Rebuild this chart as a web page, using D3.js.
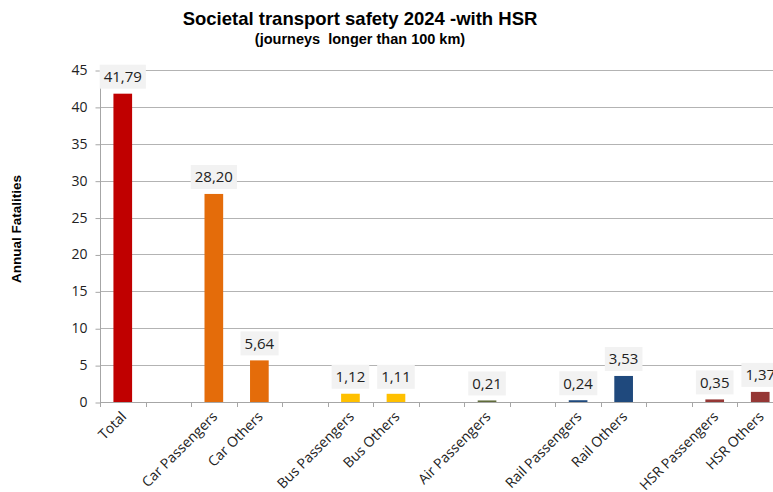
<!DOCTYPE html>
<html>
<head>
<meta charset="utf-8">
<script src="https://cdn.jsdelivr.net/npm/d3@7"></script>
<style>
  html, body { margin: 0; padding: 0; background: #fff; }
  svg { display: block; overflow: hidden; }
</style>
</head>
<body>
<svg id="chart" width="773" height="492"></svg>
<script>
// ---- data ----
const categories = ["Total", "", "Car Passengers", "Car Others", " ", "Bus Passengers", "Bus Others", "  ",
  "Air Passengers", "   ", "Rail Passengers", "Rail Others", "    ", "HSR Passengers", "HSR Others"];
const values = [41.79, null, 28.20, 5.64, null, 1.12, 1.11, null, 0.21, null, 0.24, 3.53, null, 0.35, 1.37];
const colors = ["#C00000", null, "#E46C0A", "#E46C0A", null, "#FFC000", "#FFC000", null,
  "#5F6B3A", null, "#1F497D", "#1F497D", null, "#953735", "#953735"];
const yTicks = [0, 5, 10, 15, 20, 25, 30, 35, 40, 45];
const title = "Societal transport safety 2024 -with HSR";
const subtitle = "(journeys  longer than 100 km)";
const yTitle = "Annual Fatalities";

const svg = d3.select("#chart");
const pL = 100, pR = 783, pT = 70, pB = 402;

const x = d3.scaleBand().domain(categories).range([pL, pR]).paddingInner(0).paddingOuter(0);
const y = d3.scaleLinear().domain([0, 45]).range([pB, pT]);

// gridlines
svg.append("g").selectAll("line").data(yTicks.filter(t => t > 0)).join("line")
  .attr("x1", pL).attr("x2", pR)
  .attr("y1", d => Math.round(y(d)) + 0.5).attr("y2", d => Math.round(y(d)) + 0.5)
  .attr("stroke", "#b3b3b3").attr("stroke-width", 1);

// y axis
const yAxis = svg.append("g").attr("transform", `translate(${pL + 0.5},0)`)
  .call(d3.axisLeft(y).tickValues(yTicks).tickSize(5).tickPadding(8).tickFormat(d3.format("d")));
yAxis.select(".domain").attr("stroke", "#a6a6a6").attr("d", `M0,${pT}V${pB}`);
yAxis.selectAll(".tick line").attr("stroke", "#a6a6a6").attr("transform", "translate(0,0.5)");
yAxis.selectAll(".tick text").attr("font-family", "'Open Sans', sans-serif").attr("font-size", 14).attr("fill", "#222");

// x axis baseline
svg.append("line").attr("x1", pL).attr("x2", pR).attr("y1", pB + 0.5).attr("y2", pB + 0.5)
  .attr("stroke", "#a6a6a6");
// x boundary ticks
const bounds = categories.map(c => x(c)).concat([pR]);
svg.append("g").selectAll("line").data(bounds).join("line")
  .attr("x1", d => Math.round(d) + 0.5).attr("x2", d => Math.round(d) + 0.5)
  .attr("y1", pB).attr("y2", pB + 5).attr("stroke", "#a6a6a6");

// x labels
svg.append("g").selectAll("text").data(categories.filter(c => c.trim() !== "")).join("text")
  .attr("transform", d => `translate(${x(d) + x.bandwidth() / 2 + 1},${pB + 12}) rotate(-45)`)
  .attr("text-anchor", "end")
  .attr("dy", "0.35em")
  .attr("font-family", "'Open Sans', sans-serif").attr("font-size", 14).attr("fill", "#222")
  .text(d => d);

// bars
const barW = x.bandwidth() * 0.41;
const data = categories.map((c, i) => ({ c, v: values[i], col: colors[i] })).filter(d => d.v != null);
svg.append("g").selectAll("rect").data(data).join("rect")
  .attr("x", d => x(d.c) + (x.bandwidth() - barW) / 2)
  .attr("width", barW)
  .attr("y", d => y(d.v))
  .attr("height", d => y(0) - y(d.v))
  .attr("fill", d => d.col);

// value labels
const fmt = v => v.toFixed(2).replace(".", ",");
const lg = svg.append("g").selectAll("g").data(data).join("g")
  .attr("transform", d => `translate(${x(d.c) + x.bandwidth() / 2},${y(d.v) - 17})`);
lg.append("rect").attr("fill", "#f2f2f2");
lg.append("text").attr("text-anchor", "middle").attr("dy", "0.36em")
  .attr("font-family", "'Open Sans', sans-serif").attr("font-size", 15).attr("fill", "#222")
  .text(d => fmt(d.v));
lg.each(function () {
  const t = d3.select(this).select("text").node().getBBox();
  d3.select(this).select("rect")
    .attr("x", t.x - 4).attr("width", t.width + 8)
    .attr("y", -12).attr("height", 24);
});

// titles
svg.append("text").attr("x", 360).attr("y", 25).attr("text-anchor", "middle")
  .attr("font-family", "'Liberation Sans', Arial, sans-serif").attr("font-weight", "bold")
  .attr("font-size", 18.5).attr("fill", "#000").text(title);
svg.append("text").attr("x", 360).attr("y", 44).attr("text-anchor", "middle")
  .attr("font-family", "'Liberation Sans', Arial, sans-serif").attr("font-weight", "bold")
  .attr("font-size", 14.5).attr("fill", "#000").style("white-space", "pre").text(subtitle);
svg.append("text").attr("transform", "translate(21,229) rotate(-90)").attr("text-anchor", "middle")
  .attr("font-family", "'Liberation Sans', Arial, sans-serif").attr("font-weight", "bold")
  .attr("font-size", 13.5).attr("fill", "#000").text(yTitle);
</script>
</body>
</html>
